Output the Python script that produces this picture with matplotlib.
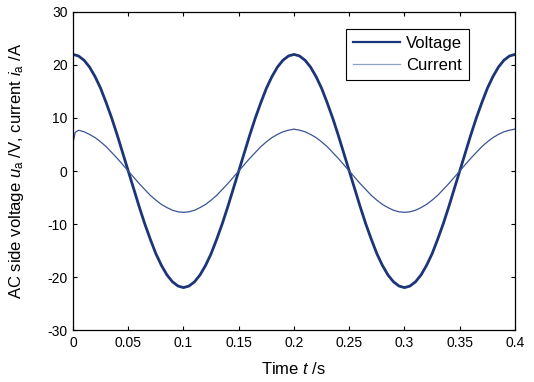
import numpy as np
import matplotlib
matplotlib.use("Agg")
import matplotlib.pyplot as plt

plt.rcParams["font.family"] = ["Liberation Sans", "DejaVu Sans"]
plt.rcParams["mathtext.fontset"] = "custom"
plt.rcParams["mathtext.rm"] = "Liberation Sans"
plt.rcParams["mathtext.it"] = "Liberation Sans:italic"
plt.rcParams["axes.unicode_minus"] = False

# time samples, s
t_u = [0.000, 0.005, 0.010, 0.015, 0.020, 0.025, 0.030, 0.035, 0.040, 0.045,
       0.050, 0.055, 0.060, 0.065, 0.070, 0.075, 0.080, 0.085, 0.090, 0.095,
       0.100, 0.105, 0.110, 0.115, 0.120, 0.125, 0.130, 0.135, 0.140, 0.145,
       0.150, 0.155, 0.160, 0.165, 0.170, 0.175, 0.180, 0.185, 0.190, 0.195,
       0.200, 0.205, 0.210, 0.215, 0.220, 0.225, 0.230, 0.235, 0.240, 0.245,
       0.250, 0.255, 0.260, 0.265, 0.270, 0.275, 0.280, 0.285, 0.290, 0.295,
       0.300, 0.305, 0.310, 0.315, 0.320, 0.325, 0.330, 0.335, 0.340, 0.345,
       0.350, 0.355, 0.360, 0.365, 0.370, 0.375, 0.380, 0.385, 0.390, 0.395,
       0.400]

# AC side voltage u_a, V
u_a = [22.0, 21.7, 20.9, 19.6, 17.8, 15.6, 12.9, 10.0, 6.8, 3.4,
       0.0, -3.4, -6.8, -10.0, -12.9, -15.6, -17.8, -19.6, -20.9, -21.7,
       -22.0, -21.7, -20.9, -19.6, -17.8, -15.6, -12.9, -10.0, -6.8, -3.4,
       0.0, 3.4, 6.8, 10.0, 12.9, 15.6, 17.8, 19.6, 20.9, 21.7,
       22.0, 21.7, 20.9, 19.6, 17.8, 15.6, 12.9, 10.0, 6.8, 3.4,
       0.0, -3.4, -6.8, -10.0, -12.9, -15.6, -17.8, -19.6, -20.9, -21.7,
       -22.0, -21.7, -20.9, -19.6, -17.8, -15.6, -12.9, -10.0, -6.8, -3.4,
       0.0, 3.4, 6.8, 10.0, 12.9, 15.6, 17.8, 19.6, 20.9, 21.7,
       22.0]

# current i_a, A (starting transient at t = 0)
t_i = [0.000, 0.0005, 0.002] + t_u[1:]
i_a = [4.0, 5.8, 7.3, 7.7, 7.4, 6.9, 6.3, 5.5, 4.6, 3.5, 2.4, 1.2,
       0.0, -1.2, -2.4, -3.5, -4.6, -5.5, -6.3, -6.9, -7.4, -7.7,
       -7.8, -7.7, -7.4, -6.9, -6.3, -5.5, -4.6, -3.5, -2.4, -1.2,
       0.0, 1.2, 2.4, 3.5, 4.6, 5.5, 6.3, 6.9, 7.4, 7.7,
       7.9, 7.7, 7.4, 6.9, 6.3, 5.5, 4.6, 3.5, 2.4, 1.2,
       0.0, -1.2, -2.4, -3.5, -4.6, -5.5, -6.3, -6.9, -7.4, -7.7,
       -7.8, -7.7, -7.4, -6.9, -6.3, -5.5, -4.6, -3.5, -2.4, -1.2,
       0.0, 1.2, 2.4, 3.5, 4.6, 5.5, 6.3, 6.9, 7.4, 7.7,
       7.9]

x_ticks = [0, 0.05, 0.1, 0.15, 0.2, 0.25, 0.3, 0.35, 0.4]
x_labels = ["0", "0.05", "0.1", "0.15", "0.2", "0.25", "0.3", "0.35", "0.4"]
y_ticks = [-30, -20, -10, 0, 10, 20, 30]

fig = plt.figure(figsize=(5.34, 3.82), dpi=100)
ax = fig.add_axes([0.1367, 0.1361, 0.8277, 0.8325])

navy = "#1c3578"
ax.plot(t_u, u_a, color=navy, linewidth=2.0, label="Voltage")
ax.plot(t_i, i_a, color="#3a5494", linewidth=0.9, label="Current")

ax.set_xlim(0, 0.4)
ax.set_ylim(-30, 30)
ax.set_xticks(x_ticks)
ax.set_xticklabels(x_labels)
ax.set_yticks(y_ticks)
ax.tick_params(direction="in", top=True, right=True, length=3,
               labelsize=10, width=0.8, pad=4)
for s in ax.spines.values():
    s.set_linewidth(0.9)

ax.set_xlabel("Time $t$ /s", fontsize=12)
ax.set_ylabel("AC side voltage $u_\\mathrm{a}$ /V, current $i_\\mathrm{a}$ /A",
              fontsize=12)
ax.xaxis.set_label_coords(0.5, -0.098)
ax.yaxis.set_label_coords(-0.106, 0.5)

leg = ax.legend(loc="upper right", bbox_to_anchor=(0.896, 0.947), fontsize=12,
                fancybox=False, framealpha=1, edgecolor="black",
                borderaxespad=0, handlelength=2.8, handletextpad=0.4,
                borderpad=0.4, labelspacing=0.45)
leg.get_frame().set_linewidth(0.8)
leg.get_lines()[0].set_linewidth(1.6)
leg.get_lines()[1].set_color("#8ea0c8")

fig.savefig("out.png", dpi=100)
